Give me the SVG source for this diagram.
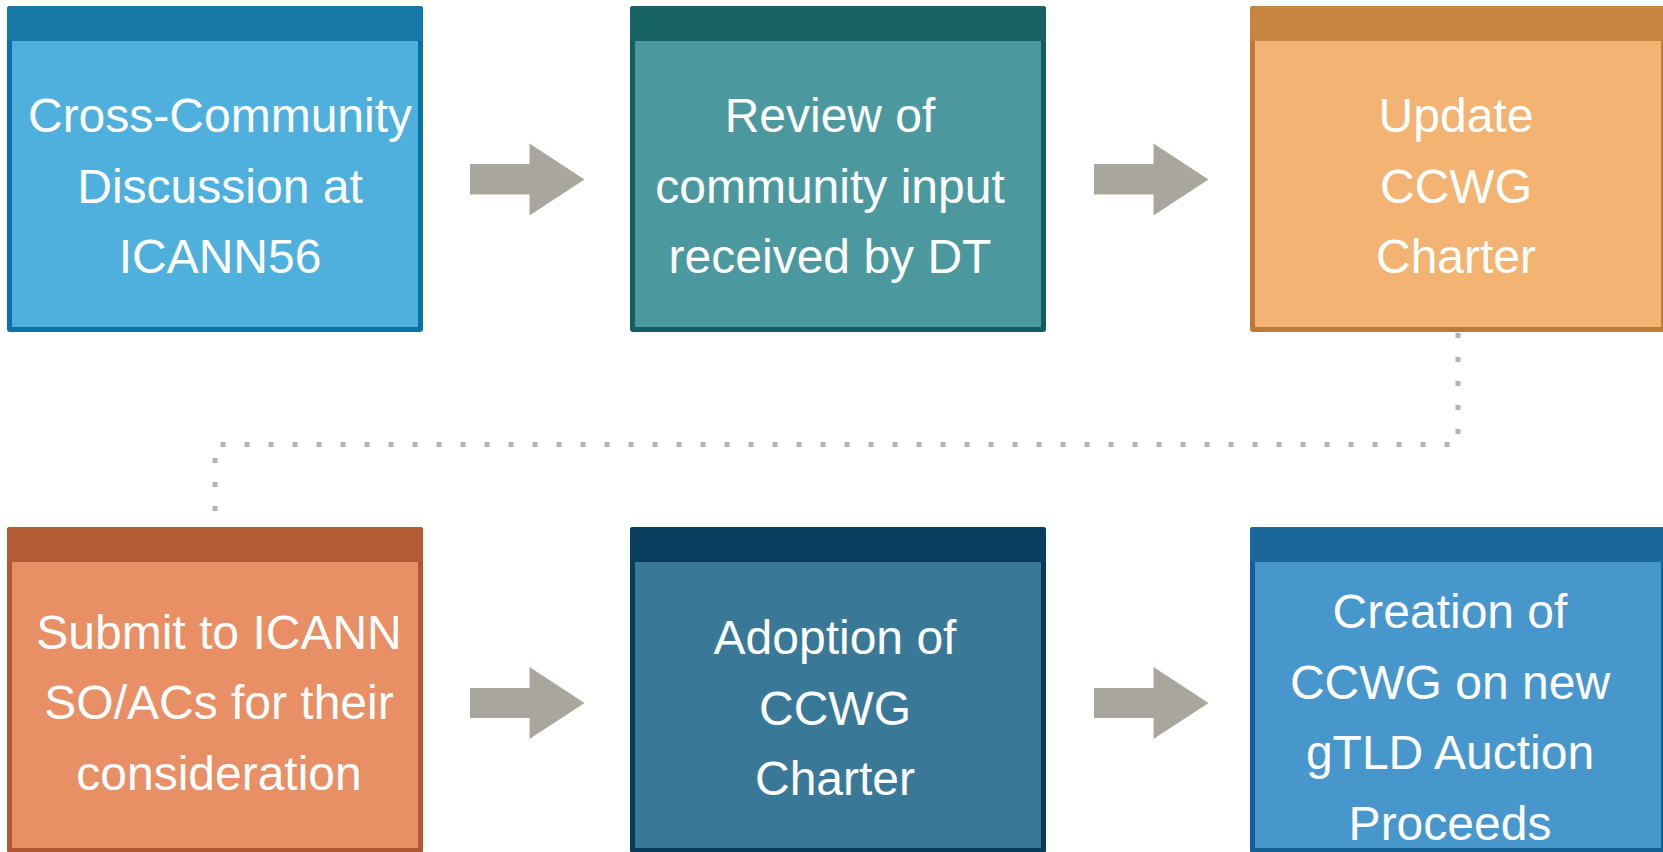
<svg xmlns="http://www.w3.org/2000/svg" width="1663" height="852" viewBox="0 0 1663 852">
<style>
text{font-family:"Liberation Sans",Arial,sans-serif;font-size:48px;fill:#ffffff;text-anchor:middle}
.arrow{fill:#a9a69d}
.dots{fill:none;stroke:#b3b3b3;stroke-width:5;stroke-dasharray:5 19}
</style>
<rect width="1663" height="852" fill="#ffffff"/>
<g id="connectors">
<path class="arrow" d="M470,164 H529.5 V143.5 L584.5,179.5 L529.5,215.5 V194.5 H470 Z"/>
<path class="arrow" d="M1094,164 H1153.5 V143.5 L1208.5,179.5 L1153.5,215.5 V194.5 H1094 Z"/>
<path class="arrow" d="M470,688 H529.5 V667 L584.5,703 L529.5,739 V718 H470 Z"/>
<path class="arrow" d="M1094,688 H1153.5 V667 L1208.5,703 L1153.5,739 V718 H1094 Z"/>
<path class="dots" d="M1458,333 V444.5 H215 V527"/>
</g>
<g id="node1">
<rect x="7" y="6" width="416" height="326" rx="3" fill="#0b72a2"/>
<rect x="7" y="6" width="416" height="35" rx="3" fill="#1779a6"/>
<rect x="12" y="41" width="406" height="286" fill="#50b0dd"/>
<text x="220" y="132">Cross-Community</text>
<text x="220" y="202.5">Discussion at</text>
<text x="220" y="273">ICANN56</text>
</g>
<g id="node2">
<rect x="630" y="6" width="416" height="326" rx="3" fill="#125e61"/>
<rect x="630" y="6" width="416" height="35" rx="3" fill="#176366"/>
<rect x="635" y="41" width="406" height="286" fill="#4b999e"/>
<text x="830" y="132">Review of</text>
<text x="830" y="202.5">community input</text>
<text x="830" y="273">received by DT</text>
</g>
<g id="node3">
<rect x="1250" y="6" width="416" height="326" rx="3" fill="#bb7a35"/>
<rect x="1250" y="6" width="416" height="35" rx="3" fill="#c88441"/>
<rect x="1255" y="41" width="406" height="286" fill="#f3b473"/>
<text x="1456" y="132">Update</text>
<text x="1456" y="202.5">CCWG</text>
<text x="1456" y="273">Charter</text>
</g>
<g id="node4">
<rect x="7" y="527" width="416" height="326" rx="3" fill="#b15731"/>
<rect x="7" y="527" width="416" height="35" rx="3" fill="#b35b35"/>
<rect x="12" y="562" width="406" height="286" fill="#e88f65"/>
<text x="219" y="648.5">Submit to ICANN</text>
<text x="219" y="719">SO/ACs for their</text>
<text x="219" y="789.5">consideration</text>
</g>
<g id="node5">
<rect x="630" y="527" width="416" height="326" rx="3" fill="#063b5a"/>
<rect x="630" y="527" width="416" height="35" rx="3" fill="#083f5e"/>
<rect x="635" y="562" width="406" height="286" fill="#3a7898"/>
<text x="835" y="654">Adoption of</text>
<text x="835" y="724.5">CCWG</text>
<text x="835" y="795">Charter</text>
</g>
<g id="node6">
<rect x="1250" y="527" width="416" height="326" rx="3" fill="#155f94"/>
<rect x="1250" y="527" width="416" height="35" rx="3" fill="#1b679c"/>
<rect x="1255" y="562" width="406" height="286" fill="#4796cc"/>
<text x="1450" y="628">Creation of</text>
<text x="1450" y="698.5">CCWG on new</text>
<text x="1450" y="769">gTLD Auction</text>
<text x="1450" y="839.5">Proceeds</text>
</g>
</svg>
